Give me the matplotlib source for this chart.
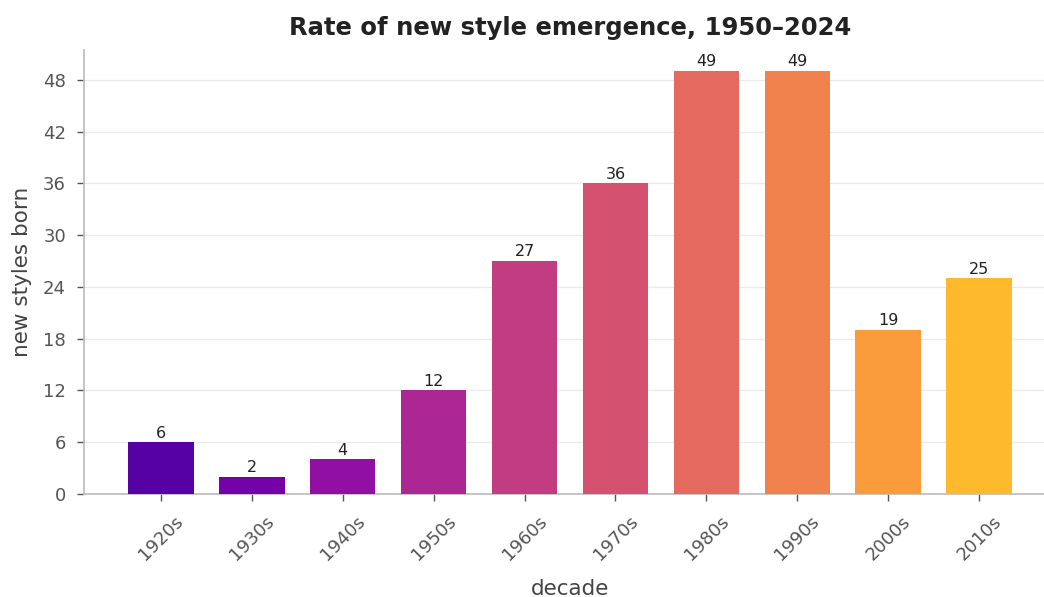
import matplotlib
matplotlib.use("Agg")
import matplotlib.pyplot as plt
import numpy as np

decades = ["1920s", "1930s", "1940s", "1950s", "1960s",
           "1970s", "1980s", "1990s", "2000s", "2010s"]
new_styles = [6, 2, 4, 12, 27, 36, 49, 49, 19, 25]
y_ticks = [0, 6, 12, 18, 24, 30, 36, 42, 48]

fig = plt.figure(figsize=(10.44, 5.97), dpi=100)
ax = fig.add_axes([0.0805, 0.1725, 0.931, 0.7437])

colors = plt.cm.plasma(np.linspace(0.15, 0.85, len(decades)))
x = np.arange(len(decades))
bars = ax.bar(x, new_styles, width=0.72, color=colors, zorder=3)

for b, v in zip(bars, new_styles):
    ax.text(b.get_x() + b.get_width() / 2, v + 0.2, str(v),
            ha="center", va="bottom", fontsize=11.5, color="#222222", zorder=4)

ax.set_xlim(-0.846, 9.846)
ax.set_ylim(0, 51.45)
ax.set_yticks(y_ticks)
ax.set_xticks(x)
ax.set_xticklabels(decades, rotation=45)

ax.grid(axis="y", color="#ebebeb", linewidth=1, zorder=0)
for s in ["top", "right"]:
    ax.spines[s].set_visible(False)
for s in ["left", "bottom"]:
    ax.spines[s].set_color("#bbbbbb")
    ax.spines[s].set_linewidth(1.2)

ax.tick_params(axis="both", labelsize=13, labelcolor="#555555", color="#555555",
               length=5, width=1, pad=8)

ax.set_title("Rate of new style emergence, 1950\u20132024", fontsize=17.5,
             fontweight="bold", color="#222222", pad=11)
ax.set_xlabel("decade", fontsize=15.5, color="#444444", labelpad=11)
ax.set_ylabel("new styles born", fontsize=15.5, color="#444444", labelpad=8)

fig.savefig("out.png", dpi=100)
